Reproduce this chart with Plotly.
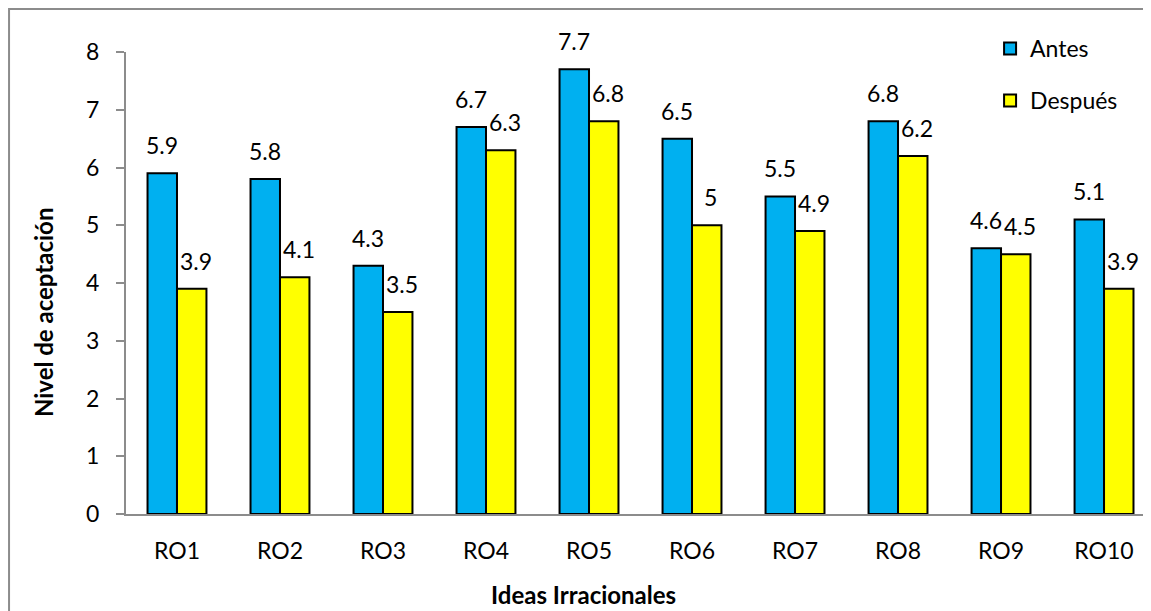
import plotly.graph_objects as go

categories = ["RO1", "RO2", "RO3", "RO4", "RO5", "RO6", "RO7", "RO8", "RO9", "RO10"]
antes = [5.9, 5.8, 4.3, 6.7, 7.7, 6.5, 5.5, 6.8, 4.6, 5.1]
despues = [3.9, 4.1, 3.5, 6.3, 6.8, 5.0, 4.9, 6.2, 4.5, 3.9]
y_ticks = [0, 1, 2, 3, 4, 5, 6, 7, 8]

FONT = "Lato"
BAR_W = 0.286
BLUE = "#00B0F0"
YELLOW = "#FFFF00"
GRAY = "#8c8c8c"

fig = go.Figure()
series = [("Antes", antes, BLUE, -BAR_W), ("Después", despues, YELLOW, 0.0)]
for name, vals, color, off in series:
    fig.add_trace(go.Bar(
        name=name, x=categories, y=vals, width=BAR_W, offset=off,
        marker=dict(color=color, line=dict(color="black", width=2)),
        legendgroup=name,
    ))

annotations = []
for name, vals, color, off in series:
    for i, v in enumerate(vals):
        annotations.append(dict(
            x=i + off + BAR_W / 2, y=v, xref="x", yref="y",
            text=f"{v:g}", showarrow=False, yanchor="bottom", yshift=12,
            xshift=0 if off < 0 else 4,
            font=dict(family=FONT, size=23, color="black"),
        ))

annotations.append(dict(
    x=0.446, y=-0.175, xref="paper", yref="paper", text="<b>Ideas Irracionales</b>",
    showarrow=False, xanchor="center", yanchor="middle",
    font=dict(family=FONT, size=24, color="black"),
))
annotations.append(dict(
    x=-0.081, y=0.437, xref="paper", yref="paper", text="<b>Nivel de aceptación</b>",
    showarrow=False, xanchor="center", yanchor="middle", textangle=-90,
    font=dict(family=FONT, size=24, color="black"),
))

fig.update_layout(
    width=1143, height=603,
    margin=dict(l=118, r=0, t=44, b=97),
    paper_bgcolor="white", plot_bgcolor="white",
    font=dict(family=FONT, size=23, color="black"),
    showlegend=True,
    legend=dict(
        x=0.843, y=1.054, xanchor="left", yanchor="top",
        font=dict(family=FONT, size=23, color="black"),
        traceorder="grouped", tracegroupgap=19,
        bgcolor="rgba(0,0,0,0)",
    ),
    annotations=annotations,
    shapes=[dict(
        type="rect", xref="paper", yref="paper",
        x0=-0.1141, x1=1.05, y0=-0.3, y1=(506 - 1) / 462,
        line=dict(color=GRAY, width=2), fillcolor="rgba(0,0,0,0)", layer="below",
    )],
)

fig.update_xaxes(
    type="category", range=[-0.495, 9.456],
    showline=True, linecolor=GRAY, linewidth=2,
    ticks="", showgrid=False, zeroline=False,
    ticklabelstandoff=15,
    tickfont=dict(family=FONT, size=23, color="black"),
)
fig.update_yaxes(
    range=[0, 8], tickvals=y_ticks,
    showline=True, linecolor=GRAY, linewidth=2,
    ticks="outside", ticklen=8, tickcolor=GRAY, tickwidth=2,
    showgrid=False, zeroline=False,
    ticklabelstandoff=12,
    tickfont=dict(family=FONT, size=23, color="black"),
)

fig.write_html("out.html")
